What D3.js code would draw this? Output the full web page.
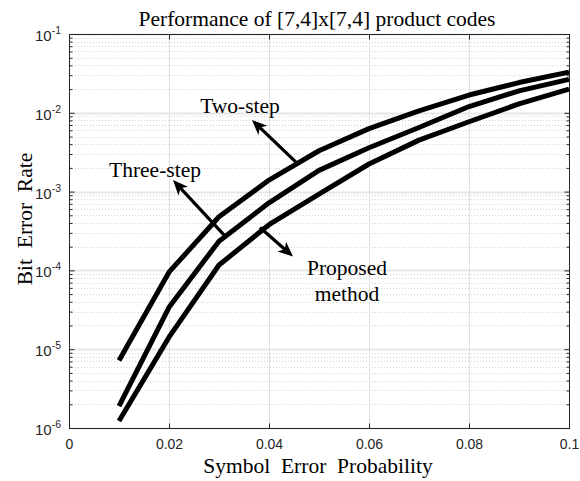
<!DOCTYPE html>
<html><head><meta charset="utf-8">
<script src="https://cdn.jsdelivr.net/npm/d3@7"></script>
<style>body{margin:0;background:#fff}svg{display:block}</style>
</head><body>
<script>
const sep = [0.01,0.02,0.03,0.04,0.05,0.06,0.07,0.08,0.09,0.10];
const twoStep   = [7.2e-6, 9.5e-5, 4.8e-4, 1.40e-3, 3.3e-3, 6.3e-3, 1.06e-2, 1.68e-2, 2.42e-2, 3.28e-2];
const threeStep = [1.9e-6, 3.4e-5, 2.35e-4, 7.2e-4, 1.86e-3, 3.6e-3, 6.5e-3, 1.2e-2, 1.9e-2, 2.66e-2];
const proposed  = [1.23e-6, 1.42e-5, 1.17e-4, 3.8e-4, 9.3e-4, 2.24e-3, 4.5e-3, 7.7e-3, 1.3e-2, 2.0e-2];
const xTicks = [0, 0.02, 0.04, 0.06, 0.08, 0.1];
const xTickLabels = ["0", "0.02", "0.04", "0.06", "0.08", "0.1"];
const yDecades = [1e-6, 1e-5, 1e-4, 1e-3, 1e-2, 1e-1];
const yExponents = ["-6", "-5", "-4", "-3", "-2", "-1"];
const titleText = "Performance of [7,4]x[7,4] product codes";
const xLabelText = "Symbol  Error  Probability";
const yLabelText = "Bit  Error  Rate";
// annotations: arrow tail (x,y) -> head (x,y), in data units
const arrowTails = [[0.0456, 2.3e-3], [0.0315, 2.6e-4], [0.0382, 3.5e-4]];
const arrowHeads = [[0.0366, 8.1e-3], [0.0208, 1.4e-3], [0.0448, 1.5e-4]];
const annoLines = [["Two-step"], ["Three-step"], ["Proposed", "method"]];
const annoPos = [[0.0342, 9.9e-3], [0.0172, 1.53e-3], [0.0556, 8.75e-5]];

const W = 580, H = 481;
const m = {left: 69, right: 569, top: 34, bottom: 428};
const svg = d3.select("body").append("svg").attr("width", W).attr("height", H);
const x = d3.scaleLinear().domain([0, 0.1]).range([m.left, m.right]);
const y = d3.scaleLog().domain([1e-6, 1e-1]).range([m.bottom, m.top]);
const axisCol = "#262626";
const serif = "Liberation Serif, Times New Roman, serif";
const sans = "Liberation Sans, Arial, sans-serif";

// minor y values
const yMinor = [];
yDecades.slice(0, -1).forEach(d => { for (let k = 2; k <= 9; k++) yMinor.push(d * k); });

const grid = svg.append("g");
grid.selectAll(".ym").data(yMinor).join("line")
  .attr("x1", m.left).attr("x2", m.right)
  .attr("y1", d => Math.round(y(d)) + 0.5).attr("y2", d => Math.round(y(d)) + 0.5)
  .attr("stroke", "#d4d4d4").attr("stroke-width", 1).attr("stroke-dasharray", "1,2");
grid.selectAll(".yM").data(yDecades).join("line")
  .attr("x1", m.left).attr("x2", m.right)
  .attr("y1", d => Math.round(y(d)) + 0.5).attr("y2", d => Math.round(y(d)) + 0.5)
  .attr("stroke", "#e6e6e6").attr("stroke-width", 2);
grid.selectAll(".xM").data(xTicks).join("line")
  .attr("y1", m.top).attr("y2", m.bottom)
  .attr("x1", d => Math.round(x(d)) + 0.5).attr("x2", d => Math.round(x(d)) + 0.5)
  .attr("stroke", "#e0e0e0").attr("stroke-width", 1);

// axes
const xAxisB = d3.axisBottom(x).tickValues(xTicks).tickSizeInner(-5).tickSizeOuter(0).tickPadding(11)
  .tickFormat((d, i) => xTickLabels[i]);
const gxb = svg.append("g").attr("transform", `translate(0,${m.bottom + 0.5})`).call(xAxisB);
const gxt = svg.append("g").attr("transform", `translate(0,${m.top + 0.5})`)
  .call(d3.axisTop(x).tickValues(xTicks).tickSizeInner(-5).tickSizeOuter(0).tickFormat(""));
const gyl = svg.append("g").attr("transform", `translate(${m.left + 0.5},0)`)
  .call(d3.axisLeft(y).tickValues(yDecades).tickSizeInner(-5).tickSizeOuter(0).tickFormat(""));
const gyr = svg.append("g").attr("transform", `translate(${m.right + 0.5},0)`)
  .call(d3.axisRight(y).tickValues(yDecades).tickSizeInner(-5).tickSizeOuter(0).tickFormat(""));
const gylm = svg.append("g").attr("transform", `translate(${m.left + 0.5},0)`)
  .call(d3.axisLeft(y).tickValues(yMinor).tickSizeInner(-3).tickSizeOuter(0).tickFormat(""));
const gyrm = svg.append("g").attr("transform", `translate(${m.right + 0.5},0)`)
  .call(d3.axisRight(y).tickValues(yMinor).tickSizeInner(-3).tickSizeOuter(0).tickFormat(""));
[gxb, gxt, gyl, gyr, gylm, gyrm].forEach(g => {
  g.select(".domain").remove();
  g.selectAll("line").attr("stroke", axisCol);
});
gxb.selectAll("text").attr("font-family", sans).attr("font-size", 14).attr("fill", axisCol);

// y tick labels with superscripts
const yl = svg.append("g");
yDecades.forEach((d, i) => {
  const t = yl.append("text").attr("x", m.left - 8).attr("y", y(d) + 7)
    .attr("text-anchor", "end").attr("font-family", sans)
    .attr("font-size", 15).attr("fill", axisCol);
  t.append("tspan").text("10");
  t.append("tspan").attr("dy", -7).attr("font-size", 10.5).text(yExponents[i]);
});

// box
svg.append("rect").attr("x", m.left + 0.5).attr("y", m.top + 0.5)
  .attr("width", m.right - m.left).attr("height", m.bottom - m.top)
  .attr("fill", "none").attr("stroke", axisCol).attr("stroke-width", 1);

// curves
const line = d3.line().x((d, i) => x(sep[i])).y(d => y(d));
[twoStep, threeStep, proposed].forEach(s => {
  svg.append("path").datum(s).attr("d", line)
    .attr("fill", "none").attr("stroke", "#000").attr("stroke-width", 5)
    .attr("stroke-linejoin", "round");
});

// arrows
arrowTails.forEach((t, i) => {
  const x0 = x(t[0]), y0 = y(t[1]);
  const x1 = x(arrowHeads[i][0]), y1 = y(arrowHeads[i][1]);
  const ang = Math.atan2(y1 - y0, x1 - x0);
  const L = 15, Wd = 6.5, back = 11;
  const bx = x1 - back * Math.cos(ang), by = y1 - back * Math.sin(ang);
  svg.append("line").attr("x1", x0).attr("y1", y0).attr("x2", bx).attr("y2", by)
    .attr("stroke", "#000").attr("stroke-width", 3.2);
  const px = -Math.sin(ang), py = Math.cos(ang);
  const baseX = x1 - L * Math.cos(ang), baseY = y1 - L * Math.sin(ang);
  const pts = [[x1, y1], [baseX + Wd * px, baseY + Wd * py], [bx, by], [baseX - Wd * px, baseY - Wd * py]];
  svg.append("polygon").attr("points", pts.map(p => p.join(",")).join(" ")).attr("fill", "#000");
});

// annotation text
annoLines.forEach((lines, i) => {
  const t = svg.append("text").attr("x", x(annoPos[i][0])).attr("y", y(annoPos[i][1]))
    .attr("text-anchor", "middle").attr("font-family", serif)
    .attr("font-size", 21.5).attr("fill", "#000");
  lines.forEach((l, j) => t.append("tspan").attr("x", x(annoPos[i][0])).attr("dy", j ? 26 : 0).text(l));
});

// title and labels
svg.append("text").attr("x", 317).attr("y", 26).attr("text-anchor", "middle")
  .attr("font-family", serif).attr("font-size", 21.5).attr("fill", "#000").text(titleText);
svg.append("text").attr("x", 318).attr("y", 473).attr("text-anchor", "middle")
  .attr("font-family", serif).attr("font-size", 21.5).attr("fill", "#000")
  .style("white-space", "pre").text(xLabelText);
svg.append("text").attr("transform", `translate(32,219) rotate(-90)`)
  .attr("text-anchor", "middle").attr("font-family", serif).attr("font-size", 21.5).attr("fill", "#000")
  .style("white-space", "pre").text(yLabelText);
</script>
</body></html>
